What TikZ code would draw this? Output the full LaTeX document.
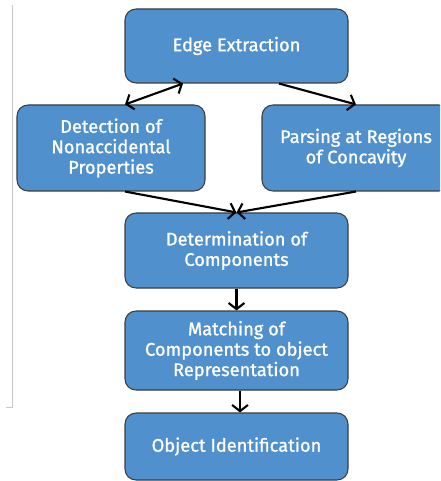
\documentclass[tikz,border=0pt]{standalone}
\usepackage{fontspec}
\setmainfont{Fira Sans}
\newfontfamily\boxfont{Fira Sans}[FakeBold=1.2]
\usepackage{tikz}
\usetikzlibrary{arrows.meta, positioning, calc}
\definecolor{boxblue}{RGB}{79,144,205}
\definecolor{boxedge}{RGB}{60,60,60}
\definecolor{margingray}{RGB}{200,200,200}
\tikzset{
  stage/.style={draw=boxedge, line width=0.6pt, fill=boxblue, rounded corners=0.22cm, text=white, align=center, font=\boxfont\fontsize{10.4}{11.6}\selectfont, inner sep=0pt},
  flow/.style={line width=1.2pt, -{Straight Barb[length=3.5pt, width=9pt]}},
}

\begin{document}
\begin{tikzpicture}
 \useasboundingbox (0,0) rectangle (8.8,-9.62);
 \clip (0,0) rectangle (8.8,-9.62);
 \draw[margingray, line width=0.5pt] (0.25,-0.1) -- (0.25,-8.14) -- (0.12,-8.14);

 \node[stage, minimum width=4.46cm, minimum height=1.48cm] (edge) at (4.73,-0.92) {Edge Extraction};
 \node[stage, minimum width=3.76cm, minimum height=1.72cm] (nonacc) at (2.22,-2.96) {Detection of\\Nonaccidental\\Properties};
 \node[stage, minimum width=3.76cm, minimum height=1.72cm] (concav) at (7.12,-2.96) {Parsing at Regions\\of Concavity};
 \node[stage, minimum width=4.46cm, minimum height=1.50cm] (compon) at (4.73,-5.01) {Determination of\\Components};
 \node[stage, minimum width=4.46cm, minimum height=1.58cm] (match) at (4.73,-7.01) {Matching of\\Components to object\\Representation};
 \node[stage, minimum width=4.46cm, minimum height=1.34cm] (ident) at (4.73,-8.93) {Object Identification};

 \draw[flow, {Straight Barb[length=3.5pt, width=9pt]}-{Straight Barb[length=3.5pt, width=9pt]}] ([xshift=-1.07cm]edge.south) -- ([xshift=0.28cm]nonacc.north);
 \draw[flow] ([xshift=0.85cm]edge.south) -- (concav.north);
 \draw[flow] ([xshift=0.28cm]nonacc.south) -- (compon.north);
 \draw[flow] (concav.south) -- (compon.north);
 \draw[flow] (compon.south) -- (match.north);
 \draw[flow] ([xshift=0.07cm]match.south) -- ([xshift=0.07cm]ident.north);
\end{tikzpicture}
\end{document}
